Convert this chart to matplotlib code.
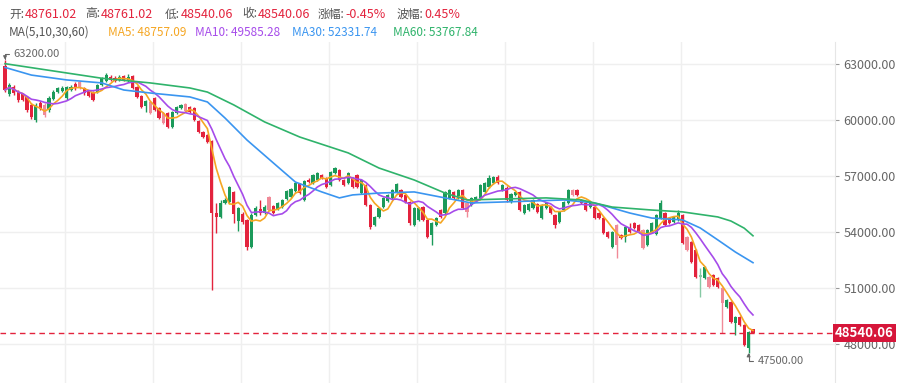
import matplotlib
matplotlib.use("Agg")
from matplotlib import pyplot as plt
from matplotlib.transforms import blended_transform_factory
import pandas as pd

# candle data (one row of ten per line)
opens = [
    62870, 61370, 61740, 61470, 61370, 61210, 60780, 59970, 60880, 60780,
    60510, 61100, 61470, 61530, 61150, 61580, 61900, 62010, 61690, 61530,
    61470, 61470, 61850, 62060, 62280, 62220, 62120, 62330, 62060, 62330,
    61740, 61260, 60720, 60940, 61150, 60620, 60350, 60350, 59600, 60350,
    60620, 60830, 60670, 60620, 59920, 59330, 59170, 58850, 54990, 54780,
    55530, 55580, 56120, 54560, 54940, 54620, 53170, 54880, 55210, 54990,
    55850, 55370, 55210, 55310, 55740, 55850, 56170, 56550, 55690, 56760,
    56600, 56760, 57030, 56870, 56490, 57130, 57300, 56760, 56600, 56870,
    57030, 56060, 56490, 55420, 54350, 54780, 55310, 55630, 55800, 56120,
    56220, 55960, 55580, 54350, 54620, 55310, 54620, 53810, 54350, 55150,
    54990, 55800, 56120, 55800, 56220, 55530, 55420, 55690, 55800, 56120,
    56380, 56600, 56920, 56220, 56330, 55580, 55960, 56120, 54990, 55150,
    55260, 55470, 54720, 55260, 55310, 54880, 54510, 55150, 55530, 56220,
    56220, 55690, 55530, 55310, 55310, 54990, 54720, 53970, 53170, 54350,
    53810, 53710, 54190, 54460, 54350, 54080, 53280, 53970, 53870, 54720,
    54990, 54720, 54510, 54620, 54880, 53710, 53440, 53010, 51560, 51510,
    51560, 51670, 51510, 50970, 49960, 50220, 49100, 49420, 48990, 47760,
    48761.02,
]
closes = [
    61580, 61850, 61420, 61050, 61050, 60510, 60130, 60780, 60560, 60240,
    61150, 61470, 61690, 61690, 61740, 61740, 61690, 61690, 61420, 61260,
    61050, 61850, 62220, 62380, 62120, 62060, 62280, 62120, 62280, 61690,
    61210, 60670, 60990, 60350, 60510, 60080, 59810, 59600, 60400, 60670,
    60780, 60460, 60400, 59970, 59330, 59060, 58800, 54990, 54780, 55530,
    55690, 56380, 54940, 55260, 54510, 53170, 54880, 55260, 54990, 55310,
    55150, 54990, 55530, 55690, 56170, 56280, 56600, 56060, 56710, 56650,
    57030, 57130, 56870, 56380, 57190, 57400, 56760, 56490, 57130, 56380,
    56380, 56760, 55420, 54240, 54780, 55260, 55800, 55960, 56220, 56550,
    55850, 55580, 54460, 55260, 55260, 54620, 53710, 54460, 54720, 54780,
    56120, 56220, 55800, 56220, 55260, 55050, 55800, 55850, 56490, 56600,
    56870, 56920, 56600, 56490, 55690, 56010, 56120, 55150, 55420, 55470,
    55690, 55050, 55420, 55530, 54990, 54350, 55050, 55580, 56220, 55960,
    55960, 55530, 55150, 55530, 54720, 54720, 53920, 53710, 53970, 53280,
    53650, 54240, 53970, 54190, 53970, 53120, 54080, 54460, 54880, 55530,
    54350, 54460, 54780, 54990, 53380, 53010, 52370, 51560, 51670, 52100,
    51030, 51130, 51030, 50170, 50330, 49150, 49420, 48990, 47920, 48620,
    48540.06,
]
highs = [
    63200, 61960, 61850, 61580, 61420, 61260, 60880, 60880, 60990, 60880,
    61260, 61580, 61740, 61800, 61800, 61850, 62010, 62060, 61740, 61580,
    61530, 61900, 62280, 62490, 62380, 62330, 62380, 62380, 62440, 62380,
    61800, 61310, 61050, 60990, 61210, 60670, 60400, 60400, 60460, 60720,
    60830, 60880, 60720, 60670, 59970, 59380, 59220, 58900, 55530, 55690,
    55800, 56440, 56170, 55310, 55050, 54670, 54990, 55370, 55690, 55420,
    55900, 55420, 55580, 55740, 56220, 56330, 56650, 56600, 56760, 56870,
    57080, 57190, 57080, 56920, 57240, 57460, 57350, 56810, 57190, 56920,
    57080, 56810, 56550, 55470, 54830, 55310, 55850, 56010, 56280, 56600,
    56280, 56010, 55630, 55310, 55310, 55370, 54670, 54510, 54780, 55210,
    56170, 56280, 56170, 56280, 56280, 55580, 55850, 55900, 56550, 56650,
    57030, 56970, 57030, 56550, 56440, 56060, 56170, 56170, 55470, 55530,
    55740, 55530, 55470, 55580, 55370, 54940, 55100, 55630, 56280, 56280,
    56280, 55740, 55580, 55580, 55370, 55050, 54780, 54030, 54030, 54400,
    53870, 54300, 54460, 54510, 54400, 54130, 54130, 54510, 54940, 55690,
    55050, 54780, 54830, 55150, 54940, 53760, 53490, 53060, 52050, 52150,
    51620, 51720, 51560, 51030, 50380, 50280, 49470, 49470, 49050, 48670,
    48761.02,
]
lows = [
    61470, 61260, 61310, 60940, 60990, 60400, 60030, 59870, 60510, 60130,
    60400, 61050, 61420, 61470, 61050, 61530, 61580, 61630, 61310, 61210,
    60990, 61420, 61800, 62010, 62060, 62010, 62060, 62060, 62010, 61630,
    61150, 60620, 60400, 60300, 60460, 60030, 59760, 59550, 59550, 60300,
    60560, 60400, 60350, 59920, 59280, 59010, 58740, 50870, 53920, 54720,
    55470, 55530, 54460, 54030, 54400, 53010, 53120, 54830, 54880, 54940,
    55100, 54940, 55150, 55260, 55690, 55800, 56120, 56010, 55630, 56600,
    56550, 56710, 56810, 56330, 56440, 57080, 56710, 56440, 56550, 56330,
    56330, 56010, 55370, 54130, 54300, 54720, 55260, 55580, 55740, 56060,
    55800, 55530, 54350, 54300, 54560, 54560, 53650, 53280, 54300, 54720,
    54940, 55740, 55740, 55740, 55210, 54780, 55370, 55630, 55740, 56060,
    56330, 56550, 56550, 56170, 55580, 55530, 55900, 55100, 54940, 55100,
    55210, 54990, 54670, 55210, 54940, 54190, 54460, 55100, 55470, 55900,
    55900, 55470, 55100, 55260, 54670, 54670, 53870, 53650, 53120, 52580,
    53600, 53440, 53920, 54130, 53920, 53060, 53220, 53920, 53810, 54670,
    54300, 54400, 54460, 54560, 53330, 52960, 52310, 51510, 50490, 51460,
    50970, 51080, 50970, 48560, 49900, 49100, 48460, 48940, 47870, 47500,
    48540.06,
]
# candles drawn in the paler shade
faded = [9, 17, 33, 36, 41, 60, 105, 129, 139, 145, 155, 158, 160, 163]

# MA30 / MA60 at a few candle positions
ma30_idx = [0, 6, 14, 22, 27, 33, 42, 46, 50, 55, 61, 66, 72, 76, 79, 85, 93,
            100, 106, 113, 127, 134, 142, 147, 154, 158, 162, 166, 170]
ma30_val = [62790, 62380, 62120, 61960, 61580, 61420, 61210, 60940, 60080,
            58900, 57670, 56650, 56120, 55800, 55960, 56060, 56120, 55800,
            55530, 55580, 55690, 55530, 54990, 54720, 54620, 54190, 53550,
            52900, 52330]
ma60_idx = [0, 22, 33, 42, 46, 52, 59, 67, 78, 85, 93, 100, 105, 113, 123,
            131, 138, 147, 154, 162, 165, 168, 170]
ma60_val = [62990, 62210, 61960, 61690, 61470, 60780, 59870, 59060, 58210,
            57400, 56760, 56060, 55690, 55740, 55800, 55690, 55310, 55150,
            55050, 54780, 54560, 54180, 53770]

y_ticks = [48000, 51000, 54000, 57000, 60000, 63000]

# header texts
head_labels = ["开:", "高:", "低:", "收:", "涨幅:", "波幅:"]
head_values = ["48761.02", "48761.02", "48540.06", "48540.06", "-0.45%", "0.45%"]
ma_texts = ["MA5: 48757.09", "MA10: 49585.28", "MA30: 52331.74", "MA60: 53767.84"]

RED = "#e3233d"
RED_LIGHT = "#f08a98"
GREEN = "#1b9a5a"
GREEN_LIGHT = "#86c9a4"
MA_COLORS = ["#f5a623", "#a64bea", "#3a95f0", "#2fb36b"]

W, H = 900, 383


def px(x, y):
    """pixel position -> figure fraction"""
    return x / W, 1 - y / H


def main():
    plt.rcParams['font.family'] = ['Noto Sans CJK SC', 'DejaVu Sans']
    fig = plt.figure(figsize=(9, 3.83), dpi=100)
    ax = fig.add_axes([0, 0, 835 / W, (H - 42) / H])

    n = len(closes)
    xs = list(range(n))

    # grid
    for v in y_ticks:
        ax.axhline(v, color="#efefef", lw=1, zorder=0)
    for k in range(8):
        ax.axvline(13.64 + 20 * k, color="#efefef", lw=1, zorder=0)

    # candles
    for i in xs:
        up = closes[i] >= opens[i]
        if up:
            col = GREEN_LIGHT if i in faded else GREEN
        else:
            col = RED_LIGHT if i in faded else RED
        ax.vlines(i, lows[i], highs[i], color=col, lw=1, zorder=2)
        bottom = min(opens[i], closes[i])
        height = max(abs(closes[i] - opens[i]), 45)
        ax.bar(i, height, bottom=bottom, width=0.7, color=col, zorder=3)

    # moving averages
    close_s = pd.Series(closes)
    ma5 = close_s.rolling(5, min_periods=1).mean()
    ma10 = close_s.rolling(10, min_periods=1).mean()
    ax.plot(xs, ma5, color=MA_COLORS[0], lw=1.2, zorder=4)
    ax.plot(xs, ma10, color=MA_COLORS[1], lw=1.2, zorder=4)
    ax.plot(ma30_idx, ma30_val, color=MA_COLORS[2], lw=1.2, zorder=4)
    ax.plot(ma60_idx, ma60_val, color=MA_COLORS[3], lw=1.2, zorder=4)

    # last price line and tag (the tag covers the 48000 label, as in the original)
    last = closes[-1]
    ax.axhline(last, color=RED, lw=1, ls=(0, (4, 3)), zorder=5)
    tr = blended_transform_factory(ax.transAxes, ax.transData)
    ax.text(1.0, last, "48540.06", transform=tr, color="white", fontsize=9.5,
            fontweight="bold", va="center", ha="left", clip_on=False, zorder=6,
            bbox=dict(boxstyle="square,pad=0.15", fc="#d6163a", ec="none"))

    # high / low markers
    hi_i = highs.index(max(highs))
    lo_i = lows.index(min(lows))
    ax.annotate("%.2f" % max(highs), xy=(hi_i, max(highs)), xytext=(8, 6),
                textcoords="offset pixels", fontsize=8, color="#666666", va="center",
                arrowprops=dict(arrowstyle="-|>", color="#666666", lw=0.8, mutation_scale=5,
                                shrinkA=1, shrinkB=0,
                                connectionstyle="angle,angleA=0,angleB=90,rad=0"))
    ax.annotate("%.2f" % min(lows), xy=(lo_i, min(lows)), xytext=(9, -8),
                textcoords="offset pixels", fontsize=8, color="#666666", va="center",
                arrowprops=dict(arrowstyle="-|>", color="#666666", lw=0.8, mutation_scale=5,
                                shrinkA=1, shrinkB=0,
                                connectionstyle="angle,angleA=0,angleB=90,rad=0"))

    # axes look
    ax.set_xlim(-1.14, 188.64)
    ax.set_ylim(45884, 64152)
    for s in ["left", "top", "bottom"]:
        ax.spines[s].set_visible(False)
    ax.spines["right"].set_color("#e6e6e6")
    ax.set_xticks([])
    ax.yaxis.tick_right()
    ax.set_yticks(y_ticks)
    ax.set_yticklabels(["%.2f" % v for v in y_ticks])
    ax.tick_params(axis="y", length=3, color="#999999", labelcolor="#666666",
                   labelsize=9, pad=3)

    # header rows: each value goes right after its label
    renderer = fig.canvas.get_renderer()
    label_x = [9, 85, 165, 242, 318, 397]
    for lx, lab, val in zip(label_x, head_labels, head_values):
        t = fig.text(*px(lx, 14), lab, color="#555555", fontsize=8.5, va="center")
        end = t.get_window_extent(renderer).x1
        fig.text(*px(end + 0.5, 14), val, color=RED, fontsize=9, va="center")
    fig.text(*px(9, 32), "MA(5,10,30,60)", color="#555555", fontsize=8.5, va="center")
    for mx, txt, col in zip([108, 195, 292, 393], ma_texts, MA_COLORS):
        fig.text(*px(mx, 32), txt, color=col, fontsize=8.5, va="center")

    fig.savefig("out.png", dpi=100)


if __name__ == "__main__":
    main()
